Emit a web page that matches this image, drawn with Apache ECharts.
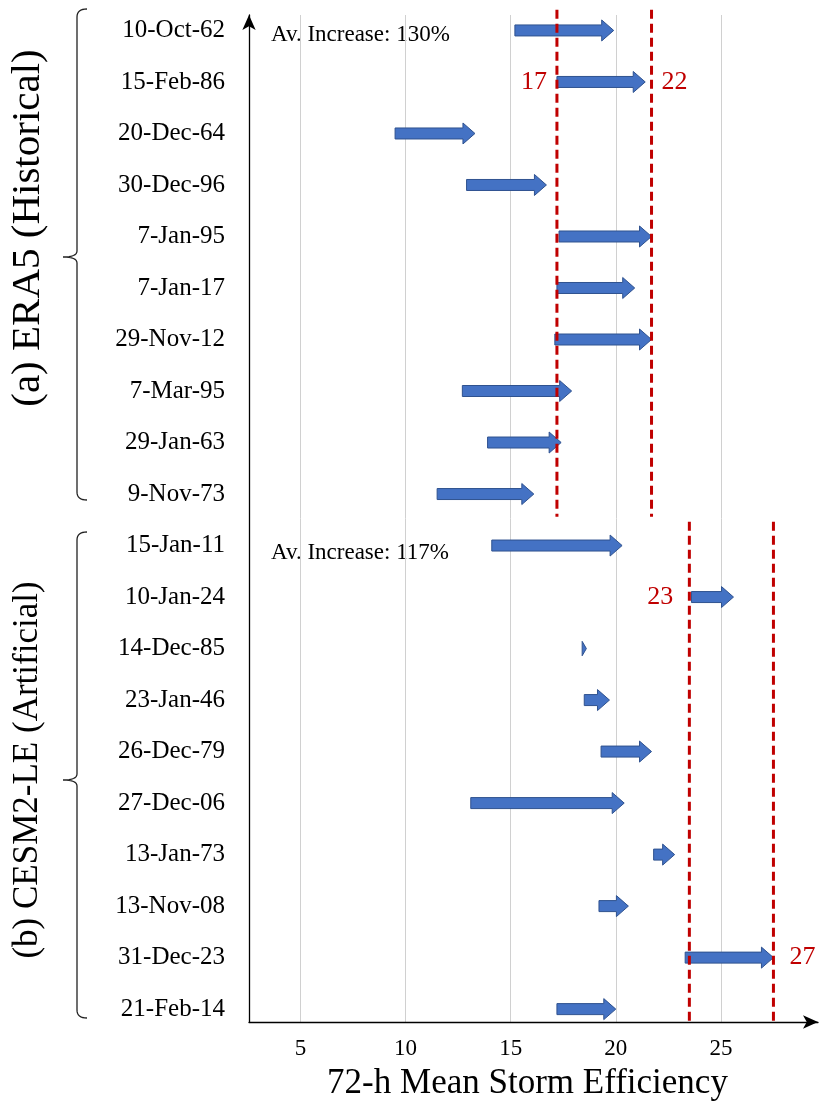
<!DOCTYPE html>
<html>
<head>
<meta charset="utf-8">
<script src="https://cdn.jsdelivr.net/npm/echarts@6/dist/echarts.min.js"></script>
<style>
  html, body { margin: 0; padding: 0; background: #fff; }
  #chart { width: 826px; height: 1108px; }
</style>
</head>
<body>
<div id="chart"></div>
<script>
// ---------- data ----------
const categories = ['10-Oct-62','15-Feb-86','20-Dec-64','30-Dec-96','7-Jan-95','7-Jan-17','29-Nov-12','7-Mar-95','29-Jan-63','9-Nov-73',
                    '15-Jan-11','10-Jan-24','14-Dec-85','23-Jan-46','26-Dec-79','27-Dec-06','13-Jan-73','13-Nov-08','31-Dec-23','21-Feb-14'];
const startValues = [15.2, 17.2, 9.5, 12.9, 17.3, 17.2, 17.1, 12.7, 13.9, 11.5,
                     14.1, 23.6, 18.4, 18.5, 19.3, 13.1, 21.8, 19.2, 23.3, 17.2];
const endValues   = [19.9, 21.4, 13.3, 16.7, 21.7, 20.9, 21.7, 17.9, 17.4, 16.1,
                     20.3, 25.6, 18.6, 19.7, 21.7, 20.4, 22.8, 20.6, 27.5, 20.0];
const xTicks = [5, 10, 15, 20, 25];
const refValues = [17.2, 21.7, 23.5, 27.5];
const refLabels = ['17', '22', '23', '27'];
const refGroup = [0, 0, 1, 1];          // which panel each reference line belongs to
const refLabelRow = [1, 1, 11, 18];     // category row where the label sits
const refLabelSide = ['left', 'right', 'left', 'right'];
const groupTitles = ['(a) ERA5 (Historical)', '(b) CESM2-LE (Artificial)'];
const avIncrease = ['Av. Increase: 130%', 'Av. Increase: 117%'];
const xTitle = '72-h Mean Storm Efficiency';

// ---------- layout / style ----------
const FONT = '"Liberation Serif", "Times New Roman", serif';
const N = categories.length;
const rowIdx = categories.map((_, i) => i);
const panelRowExtent = [[-0.4, 9.44], [9.54, 19.25]]; // vertical span of dashed lines (row units)
const RED = '#C00000';

const arrowData = categories.map((c, i) => [i, startValues[i], endValues[i]]);
const refData = refValues.map((v, i) => [v, i]);

function rowY(r) { return (N - 1) - r; }

function renderArrow(params, api) {
  const row = api.value(0), s = api.value(1), e = api.value(2);
  const p1 = api.coord([s, rowY(row)]);
  const p2 = api.coord([e, rowY(row)]);
  const y = p1[1];
  const len = p2[0] - p1[0];
  const headL = Math.min(12, len);
  const bh = 5.5;
  const hh = Math.min(10.5, 3 + len);
  const xh = p2[0] - headL;
  const pts = [[p1[0], y - bh], [xh, y - bh], [xh, y - hh], [p2[0], y], [xh, y + hh], [xh, y + bh], [p1[0], y + bh]];
  return {
    type: 'polygon',
    shape: { points: pts },
    style: { fill: '#4472C4', stroke: '#2F528F', lineWidth: 1 }
  };
}

function renderRef(params, api) {
  const v = api.value(0), i = api.value(1);
  const ext = panelRowExtent[refGroup[i]];
  const a = api.coord([v, rowY(ext[0])]);
  const b = api.coord([v, rowY(ext[1])]);
  const lp = api.coord([v, rowY(refLabelRow[i])]);
  const left = refLabelSide[i] === 'left';
  const gap = (refGroup[i] === 0) ? 10 : 16;
  return {
    type: 'group',
    children: [
      {
        type: 'line',
        shape: { x1: a[0], y1: a[1], x2: b[0], y2: b[1] },
        style: { stroke: RED, lineWidth: 3, lineDash: [9, 5] }
      },
      {
        type: 'text',
        style: {
          text: refLabels[i],
          x: left ? lp[0] - gap : lp[0] + gap,
          y: lp[1],
          align: left ? 'right' : 'left',
          verticalAlign: 'middle',
          font: '26px ' + FONT,
          fill: RED
        }
      }
    ]
  };
}

// curly brace as a sampled polyline
function quad(p0, c, p1, n) {
  const out = [];
  for (let k = 0; k <= n; k++) {
    const t = k / n, u = 1 - t;
    out.push([u * u * p0[0] + 2 * u * t * c[0] + t * t * p1[0], u * u * p0[1] + 2 * u * t * c[1] + t * t * p1[1]]);
  }
  return out;
}
function bracePoints(top, mid, bot) {
  const x = 77, xr = 87, xl = 63;
  return [].concat(
    quad([xr, top], [x, top], [x, top + 8], 8),
    quad([x, mid - 6], [x, mid], [xl, mid], 8),
    quad([xl, mid], [x, mid], [x, mid + 6], 8),
    quad([x, bot - 8], [x, bot], [xr, bot], 8)
  );
}

const chart = echarts.init(document.getElementById('chart'), null, { renderer: 'canvas' });
chart.setOption({
  animation: false,
  backgroundColor: '#ffffff',
  grid: { left: 249, right: 8, top: 15, bottom: 86, containLabel: false },
  xAxis: {
    type: 'value',
    min: 2.55,
    max: 29.62,
    name: xTitle,
    nameLocation: 'middle',
    nameGap: 44,
    nameTextStyle: { fontFamily: FONT, fontSize: 35, color: '#000', padding: [0, 12, 0, 0] },
    axisLine: { show: true, onZero: false, symbol: ['none', 'arrow'], symbolSize: [10, 15],
                lineStyle: { color: '#000', width: 1.3 } },
    axisTick: { show: false, customValues: xTicks },
    axisLabel: { customValues: xTicks, margin: 15, fontFamily: FONT, fontSize: 23, color: '#000' },
    splitLine: { show: true, lineStyle: { color: '#d0d0d0', width: 1 } }
  },
  yAxis: {
    type: 'value',
    min: -0.25,
    max: 19.3,
    axisLine: { show: true, onZero: false, symbol: ['none', 'arrow'], symbolSize: [10, 15],
                lineStyle: { color: '#000', width: 1.3 } },
    axisTick: { show: false, customValues: rowIdx },
    axisLabel: { customValues: rowIdx, formatter: v => categories[(N - 1) - Math.round(v)],
                 margin: 24, fontFamily: FONT, fontSize: 25, color: '#000' },
    splitLine: { show: false }
  },
  series: [
    { type: 'custom', name: 'Storm efficiency change', renderItem: renderArrow, data: arrowData,
      encode: { x: [1, 2] }, clip: false, z: 3 },
    { type: 'custom', name: 'Panel means', renderItem: renderRef, data: refData,
      encode: { x: 0 }, clip: false, z: 4 }
  ],
  graphic: [
    { type: 'polyline', shape: { points: bracePoints(9, 257, 500) },
      style: { fill: null, stroke: '#222', lineWidth: 1.3 } },
    { type: 'polyline', shape: { points: bracePoints(532, 780, 1018) },
      style: { fill: null, stroke: '#222', lineWidth: 1.3 } },
    { type: 'text', x: 28, y: 228, rotation: Math.PI / 2,
      style: { text: groupTitles[0], font: '41px ' + FONT, fill: '#000', align: 'center', verticalAlign: 'middle' } },
    { type: 'text', x: 28, y: 770, rotation: Math.PI / 2,
      style: { text: groupTitles[1], font: '35px ' + FONT, fill: '#000', align: 'center', verticalAlign: 'middle' } },
    { type: 'text', x: 271, y: 35,
      style: { text: avIncrease[0], font: '23px ' + FONT, fill: '#000', align: 'left', verticalAlign: 'middle' } },
    { type: 'text', x: 271, y: 553,
      style: { text: avIncrease[1], font: '23px ' + FONT, fill: '#000', align: 'left', verticalAlign: 'middle' } }
  ]
});
</script>
</body>
</html>
